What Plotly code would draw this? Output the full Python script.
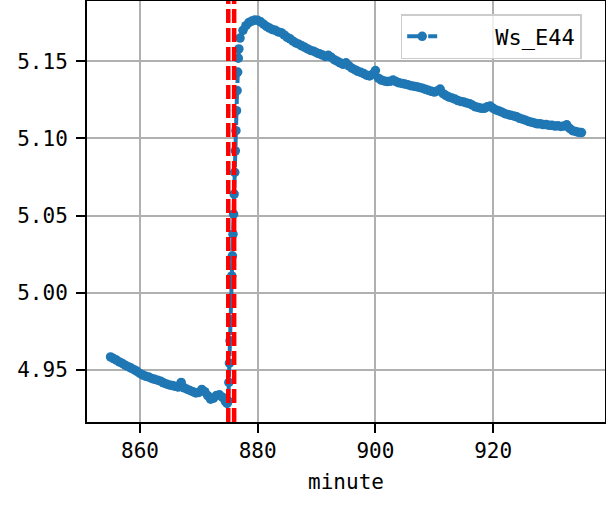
import plotly.graph_objects as go

# ---- data ----
minute_pre = [855.0, 855.5, 856.0, 856.5, 857.0, 857.5, 858.0, 858.5, 859.0, 859.5,
              860.0, 860.5, 861.0, 861.5, 862.0, 862.5, 863.0, 863.5, 864.0, 864.5,
              865.0, 865.5, 866.0, 866.5, 867.0, 867.5, 868.0, 868.5, 869.0, 869.5,
              870.0, 870.5, 871.0, 871.5, 872.0, 872.5, 873.0, 873.5, 874.0, 874.5, 874.8]
ws_pre = [4.9585, 4.9575, 4.9565, 4.9553, 4.9543, 4.9532, 4.9522, 4.9513, 4.9503, 4.9492,
          4.9478, 4.9468, 4.9460, 4.9455, 4.9446, 4.9440, 4.9435, 4.9428, 4.9418, 4.9410,
          4.9404, 4.9400, 4.9395, 4.9390, 4.9420, 4.9385, 4.9376, 4.9368, 4.9360, 4.9352,
          4.9355, 4.9375, 4.9360, 4.9335, 4.9312, 4.9318, 4.9336, 4.9340, 4.9325, 4.9298, 4.9284]

minute_jump = [875.0, 875.1, 875.2, 875.3, 875.4, 875.5, 875.6, 875.7, 875.8, 875.9,
               876.0, 876.1, 876.2, 876.3, 876.4, 876.5, 876.6, 876.7, 876.8]
ws_jump = [4.9300, 4.9420, 4.9545, 4.9690, 4.9830, 4.9970, 5.0110, 5.0240, 5.0380, 5.0510,
           5.0640, 5.0780, 5.0920, 5.1050, 5.1180, 5.1310, 5.1430, 5.1520, 5.1580]

minute_post = [877.0, 877.5, 878.0, 878.5, 879.0, 879.5,
               880.0, 880.5, 881.0, 881.5, 882.0, 882.5, 883.0, 883.5, 884.0, 884.5,
               885.0, 885.5, 886.0, 886.5, 887.0, 887.5, 888.0, 888.5, 889.0, 889.5,
               890.0, 890.5, 891.0, 891.5, 892.0, 892.5, 893.0, 893.5, 894.0, 894.5,
               895.0, 895.5, 896.0, 896.5, 897.0, 897.5, 898.0, 898.5, 899.0, 899.5,
               900.0, 900.5, 901.0, 901.5, 902.0, 902.5, 903.0, 903.5, 904.0, 904.5,
               905.0, 905.5, 906.0, 906.5, 907.0, 907.5, 908.0, 908.5, 909.0, 909.5,
               910.0, 910.5, 911.0, 911.5, 912.0, 912.5, 913.0, 913.5, 914.0, 914.5,
               915.0, 915.5, 916.0, 916.5, 917.0, 917.5, 918.0, 918.5, 919.0, 919.5,
               920.0, 920.5, 921.0, 921.5, 922.0, 922.5, 923.0, 923.5, 924.0, 924.5,
               925.0, 925.5, 926.0, 926.5, 927.0, 927.5, 928.0, 928.5, 929.0, 929.5,
               930.0, 930.5, 931.0, 931.5, 932.0, 932.5, 933.0, 933.5, 934.0, 934.5, 935.0]
ws_post = [5.1650, 5.1700, 5.1730, 5.1750, 5.1760, 5.1767,
           5.1765, 5.1755, 5.1740, 5.1725, 5.1715, 5.1705, 5.1700, 5.1690, 5.1685, 5.1670,
           5.1655, 5.1645, 5.1630, 5.1618, 5.1610, 5.1600, 5.1590, 5.1580, 5.1570, 5.1565,
           5.1555, 5.1548, 5.1540, 5.1530, 5.1538, 5.1525, 5.1510, 5.1500, 5.1490, 5.1480,
           5.1490, 5.1470, 5.1455, 5.1445, 5.1435, 5.1428, 5.1420, 5.1410, 5.1405, 5.1415,
           5.1440, 5.1390, 5.1378, 5.1372, 5.1368, 5.1370, 5.1378, 5.1368, 5.1360, 5.1356,
           5.1352, 5.1348, 5.1342, 5.1338, 5.1335, 5.1330, 5.1325, 5.1318, 5.1312, 5.1305,
           5.1300, 5.1308, 5.1320, 5.1290, 5.1278, 5.1268, 5.1262, 5.1255, 5.1245, 5.1240,
           5.1236, 5.1230, 5.1225, 5.1215, 5.1205, 5.1200, 5.1195, 5.1195, 5.1205, 5.1210,
           5.1195, 5.1185, 5.1178, 5.1170, 5.1160, 5.1155, 5.1150, 5.1146, 5.1140, 5.1130,
           5.1125, 5.1118, 5.1110, 5.1105, 5.1100, 5.1095, 5.1095, 5.1090, 5.1090, 5.1085,
           5.1085, 5.1080, 5.1082, 5.1078, 5.1080, 5.1088, 5.1065, 5.1050, 5.1045, 5.1040, 5.1038]

event_minutes = [875.0, 876.0]

x_tick_vals = [860, 880, 900, 920]
y_tick_vals = [4.95, 5.00, 5.05, 5.10, 5.15]

series_name = "Ws_E44"
x_title = "minute"

minutes = minute_pre + minute_jump + minute_post
ws = ws_pre + ws_jump + ws_post

FONT = "DejaVu Sans Mono"
BLUE = "#1f77b4"

fig = go.Figure()
fig.add_trace(go.Scatter(
    x=minutes, y=ws, name="\u00a0\u00a0\u00a0\u00a0" + series_name, mode="lines+markers",
    line=dict(color=BLUE, width=4, dash="15px,6px"),
    marker=dict(color=BLUE, size=9.5),
    showlegend=True,
))

for m in event_minutes:
    fig.add_shape(type="line", xref="x", yref="paper", x0=m, x1=m, y0=0, y1=1,
                  line=dict(color="red", width=4.5, dash="14px,5px"), layer="above")

fig.update_layout(
    width=606, height=507,
    margin=dict(l=87, r=1, t=1, b=85, autoexpand=False),
    paper_bgcolor="white", plot_bgcolor="white",
    font=dict(family=FONT, size=21, color="black"),
    showlegend=True,
    legend=dict(x=0.955, y=0.969, xanchor="right", yanchor="top",
                bgcolor="rgba(255,255,255,0.8)", bordercolor="#cccccc", borderwidth=1.5,
                font=dict(family=FONT, size=22)),
)
fig.update_xaxes(
    range=[851.0, 939.0], tickvals=x_tick_vals, automargin=False,
    showgrid=True, gridcolor="#b0b0b0", gridwidth=2,
    showline=True, linecolor="black", linewidth=2, mirror=True,
    ticks="outside", ticklen=9, tickwidth=2, tickcolor="black",
    zeroline=False,
    title=dict(text=x_title, font=dict(family=FONT, size=21), standoff=12),
)
fig.update_yaxes(
    range=[4.9164, 5.189], tickvals=y_tick_vals, tickformat=".2f", automargin=False,
    showgrid=True, gridcolor="#b0b0b0", gridwidth=2,
    showline=True, linecolor="black", linewidth=2, mirror=True,
    ticks="outside", ticklen=9, tickwidth=2, tickcolor="black",
    zeroline=False, ticklabelstandoff=4,
)

fig.write_html(
    "out.html",
    config={"responsive": False, "displayModeBar": False},
    post_script="document.body.style.margin='0';document.body.style.overflow='hidden';",
)
